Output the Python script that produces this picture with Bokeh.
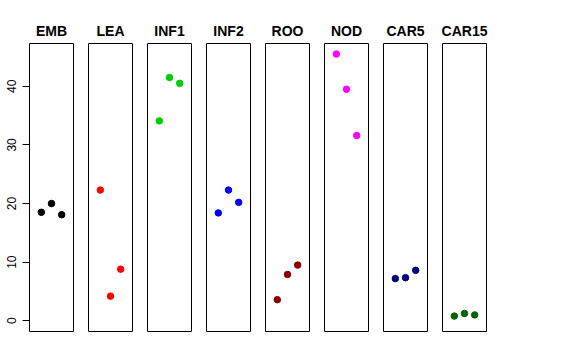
from bokeh.plotting import figure
from bokeh.layouts import row
from bokeh.models import FixedTicker, Range1d, ColumnDataSource
from bokeh.embed import file_html
from bokeh.resources import INLINE

groups = ["EMB", "LEA", "INF1", "INF2", "ROO", "NOD", "CAR5", "CAR15"]
colors = ["#000000", "#FF0000", "#00CD00", "#0000FF", "#8B0000", "#FF00FF", "#000080", "#006400"]
reps = [1, 2, 3]
values = {
    "EMB": [18.5, 20.0, 18.1],
    "LEA": [22.3, 4.2, 8.8],
    "INF1": [34.1, 41.5, 40.5],
    "INF2": [18.4, 22.3, 20.2],
    "ROO": [3.6, 7.9, 9.5],
    "NOD": [45.5, 39.5, 31.6],
    "CAR5": [7.2, 7.35, 8.6],
    "CAR15": [0.8, 1.25, 1.0],
}
y_ticks = [0, 10, 20, 30, 40]

ymin, ymax = -1.83, 47.3
figs = []
for i, (g, c) in enumerate(zip(groups, colors)):
    first = i == 0
    p = figure(output_backend="svg", toolbar_location=None,
               frame_width=44, frame_height=288,
               x_range=Range1d(-0.16, 4.16), y_range=Range1d(ymin, ymax),
               x_axis_type=None, y_axis_type="linear" if first else None,
               min_border_left=29 if first else 7, min_border_right=8,
               min_border_top=43, min_border_bottom=8,
               title=g)
    p.title.text_font = "Liberation Sans"
    p.title.text_font_size = "14px"
    p.title.text_font_style = "bold"
    p.title.align = "center"
    p.title.text_color = "#000000"
    p.title.standoff = 10
    p.xgrid.visible = False
    p.ygrid.visible = False
    p.outline_line_color = "#000000"
    p.outline_line_width = 1
    p.background_fill_color = "white"
    p.border_fill_color = "white"
    if first:
        ax = p.yaxis[0]
        ax.ticker = FixedTicker(ticks=y_ticks, minor_ticks=[])
        ax.bounds = (0, 40)
        ax.major_tick_out = 7
        ax.major_tick_in = 0
        ax.minor_tick_out = 0
        ax.minor_tick_in = 0
        ax.major_label_orientation = "vertical"
        ax.major_label_standoff = 6
        ax.major_label_text_font = "Liberation Sans"
        ax.major_label_text_font_size = "12px"
        ax.major_label_text_color = "#000000"
        ax.axis_line_color = "#000000"
        ax.major_tick_line_color = "#000000"
    src = ColumnDataSource(dict(x=reps, y=values[g]))
    p.scatter("x", "y", source=src, size=6.5, color=c, line_color=c)
    figs.append(p)

layout = row(*figs, spacing=0)
open("out.html", "w").write(file_html(layout, INLINE))
